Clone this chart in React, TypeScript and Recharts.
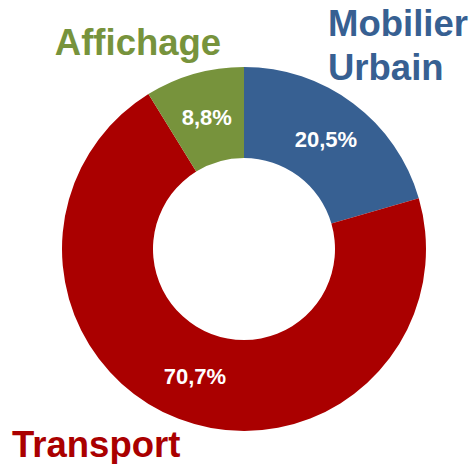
import { PieChart, Pie, Cell } from 'recharts'

const categories = ['Mobilier Urbain', 'Transport', 'Affichage']
const shares = [20.5, 70.7, 8.8]
const colors = ['#376092', '#AA0000', '#77933C']

const data = categories.map((name, i) => ({ name, value: shares[i] }))

const FONT = '"Liberation Sans", Arial, sans-serif'
const RAD = Math.PI / 180

// where each category name sits around the ring
const nameSpots: Record<string, { x: number; y: number; anchor: 'start' | 'middle' }> = {
  'Mobilier Urbain': { x: 328, y: 36, anchor: 'start' },
  Transport: { x: 12, y: 457, anchor: 'start' },
  Affichage: { x: 138, y: 55, anchor: 'middle' },
}

function SliceLabel(props: any) {
  const { cx, cy, midAngle, innerRadius, outerRadius, value, name, index } = props
  const r = (innerRadius + outerRadius) / 2
  const x = cx + r * Math.cos(-midAngle * RAD)
  const y = cy + r * Math.sin(-midAngle * RAD)
  const spot = nameSpots[name]
  const words = name.split(' ')
  return (
    <g>
      <text
        x={x}
        y={y}
        fill="#fff"
        textAnchor="middle"
        dominantBaseline="central"
        fontFamily={FONT}
        fontWeight="bold"
        fontSize={22}
      >
        {value.toFixed(1).replace('.', ',')}%
      </text>
      {spot && (
        <text
          x={spot.x}
          y={spot.y}
          fill={colors[index]}
          textAnchor={spot.anchor}
          fontFamily={FONT}
          fontWeight="bold"
          fontSize={36.5}
        >
          {words.map((w: string, i: number) => (
            <tspan key={w} x={spot.x} dy={i === 0 ? 0 : 44}>
              {w}
            </tspan>
          ))}
        </text>
      )}
    </g>
  )
}

export default function App() {
  return (
    <div style={{ position: 'fixed', top: 0, left: 0, width: 473, height: 464, background: '#fff' }}>
      <PieChart width={473} height={464} margin={{ top: 0, right: 0, bottom: 0, left: 0 }}>
        <Pie
          data={data}
          dataKey="value"
          nameKey="name"
          cx={244}
          cy={249}
          innerRadius={91}
          outerRadius={182}
          startAngle={90}
          endAngle={-270}
          stroke="none"
          label={SliceLabel}
          labelLine={false}
          isAnimationActive={false}
        >
          {data.map((d, i) => (
            <Cell key={d.name} fill={colors[i]} />
          ))}
        </Pie>
      </PieChart>
    </div>
  )
}
